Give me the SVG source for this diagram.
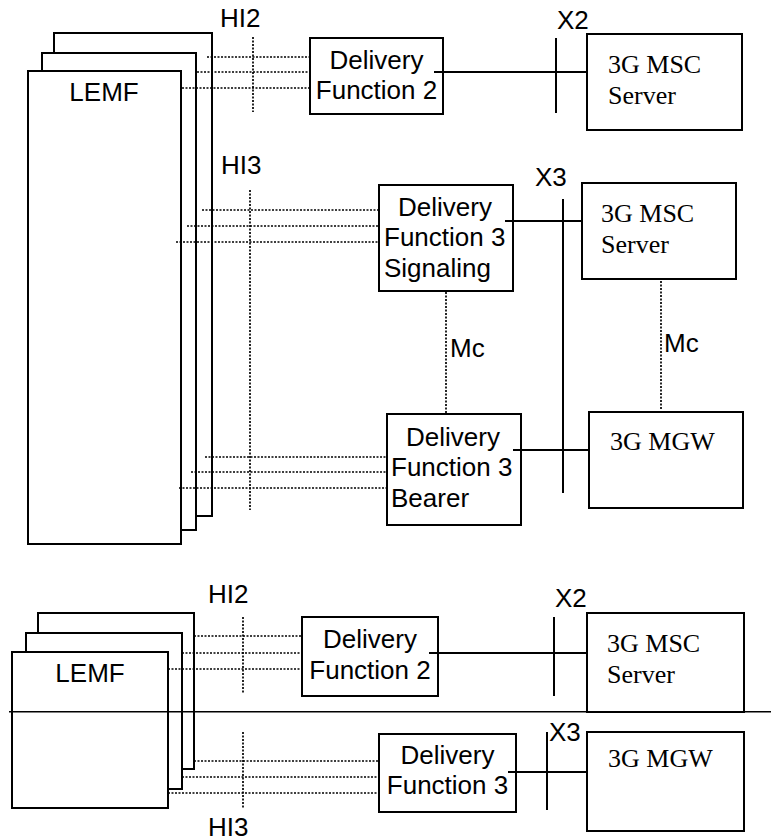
<svg xmlns="http://www.w3.org/2000/svg" width="771" height="840" viewBox="0 0 771 840">
<style>
.box{fill:#fff;stroke:#000;stroke-width:2}
.sans{font-family:"Liberation Sans",Arial,sans-serif;font-size:26px;fill:#000}
.serif{font-family:"Liberation Serif","Times New Roman",serif;font-size:26px;fill:#000}
.dot{stroke:#000;stroke-width:1.7;stroke-dasharray:2 1.5;fill:none}
.solid{stroke:#000;stroke-width:2;fill:none}
.thin{stroke:#000;stroke-width:1.4;fill:none}
</style>
<rect width="771" height="840" fill="#fff"/>

<!-- Top section -->
<g id="lemf-top">
  <rect class="box" x="54" y="33" width="158" height="483"/>
  <rect class="box" x="42" y="53" width="154" height="477"/>
  <rect class="box" x="28" y="71" width="153" height="473"/>
  <text class="sans" x="104" y="101" text-anchor="middle">LEMF</text>
</g>
<g id="df2-top">
  <rect class="box" x="310" y="38" width="133" height="76"/>
  <text class="sans" x="376.5" y="69" text-anchor="middle">Delivery</text>
  <text class="sans" x="376.5" y="99" text-anchor="middle">Function 2</text>
</g>
<g id="msc-top">
  <rect class="box" x="587" y="34" width="155" height="96"/>
  <text class="serif" x="608" y="73">3G MSC</text>
  <text class="serif" x="608" y="104">Server</text>
</g>
<g id="df3s">
  <rect class="box" x="379" y="185" width="134" height="106"/>
  <text class="sans" x="398" y="216">Delivery</text>
  <text class="sans" x="384" y="246">Function 3</text>
  <text class="sans" x="384" y="277">Signaling</text>
</g>
<g id="msc-mid">
  <rect class="box" x="582" y="183" width="154" height="96"/>
  <text class="serif" x="601" y="222">3G MSC</text>
  <text class="serif" x="601" y="253">Server</text>
</g>
<g id="df3b">
  <rect class="box" x="387" y="414" width="134" height="111"/>
  <text class="sans" x="406" y="446">Delivery</text>
  <text class="sans" x="391" y="476">Function 3</text>
  <text class="sans" x="391" y="507">Bearer</text>
</g>
<g id="mgw-top">
  <rect class="box" x="589" y="412" width="154" height="96"/>
  <text class="serif" x="610" y="450">3G MGW</text>
</g>

<!-- Bottom section -->
<g id="lemf-bottom">
  <rect class="box" x="38" y="613" width="156" height="156"/>
  <rect class="box" x="26" y="633" width="156" height="156"/>
  <rect class="box" x="12" y="652" width="156" height="156"/>
  <text class="sans" x="90" y="682" text-anchor="middle">LEMF</text>
</g>
<g id="df2-bottom">
  <rect class="box" x="302" y="617" width="136" height="79"/>
  <text class="sans" x="370" y="648" text-anchor="middle">Delivery</text>
  <text class="sans" x="370" y="679" text-anchor="middle">Function 2</text>
</g>
<g id="msc-bottom">
  <rect class="box" x="587" y="613" width="157" height="99"/>
  <text class="serif" x="607" y="652">3G MSC</text>
  <text class="serif" x="607" y="683">Server</text>
</g>
<g id="df3-bottom">
  <rect class="box" x="379" y="734" width="137" height="78"/>
  <text class="sans" x="447.5" y="764" text-anchor="middle">Delivery</text>
  <text class="sans" x="447.5" y="794" text-anchor="middle">Function 3</text>
</g>
<g id="mgw-bottom">
  <rect class="box" x="587" y="732" width="157" height="99"/>
  <text class="serif" x="608" y="767">3G MGW</text>
</g>

<g id="connectors">
  <!-- top HI2 -->
  <line class="dot" x1="253" y1="37" x2="253" y2="112"/>
  <line class="dot" x1="207" y1="57" x2="310" y2="57"/>
  <line class="dot" x1="197" y1="72" x2="310" y2="72"/>
  <line class="dot" x1="182" y1="88" x2="310" y2="88"/>
  <!-- top HI3 -->
  <line class="dot" x1="250" y1="190" x2="250" y2="510"/>
  <line class="dot" x1="202" y1="210" x2="379" y2="210"/>
  <line class="dot" x1="187" y1="226" x2="379" y2="226"/>
  <line class="dot" x1="176" y1="242" x2="379" y2="242"/>
  <line class="dot" x1="205" y1="457" x2="387" y2="457"/>
  <line class="dot" x1="191" y1="472" x2="387" y2="472"/>
  <line class="dot" x1="179" y1="488" x2="387" y2="488"/>
  <!-- X2 / X3 top -->
  <line class="solid" x1="434" y1="72" x2="587" y2="72"/>
  <line class="solid" x1="556" y1="38" x2="556" y2="113"/>
  <line class="solid" x1="505" y1="221" x2="582" y2="221"/>
  <line class="solid" x1="563" y1="199" x2="563" y2="493"/>
  <line class="solid" x1="513" y1="450" x2="589" y2="450"/>
  <!-- Mc -->
  <line class="dot" x1="446" y1="292" x2="446" y2="413"/>
  <line class="dot" x1="661" y1="281" x2="661" y2="410"/>
  <!-- divider -->
  <line class="thin" x1="9" y1="711.7" x2="771" y2="711.7"/>
  <!-- bottom HI2 -->
  <line class="dot" x1="243" y1="617" x2="243" y2="693"/>
  <line class="dot" x1="194" y1="636" x2="302" y2="636"/>
  <line class="dot" x1="182" y1="653" x2="302" y2="653"/>
  <line class="dot" x1="168" y1="669" x2="302" y2="669"/>
  <!-- bottom HI3 -->
  <line class="dot" x1="243" y1="732" x2="243" y2="808"/>
  <line class="dot" x1="194" y1="761" x2="379" y2="761"/>
  <line class="dot" x1="182" y1="777" x2="379" y2="777"/>
  <line class="dot" x1="168" y1="793" x2="379" y2="793"/>
  <!-- bottom X2 / X3 -->
  <line class="solid" x1="429" y1="653" x2="587" y2="653"/>
  <line class="solid" x1="554" y1="617" x2="554" y2="696"/>
  <line class="solid" x1="508" y1="772" x2="587" y2="772"/>
  <line class="solid" x1="547" y1="732" x2="547" y2="810"/>
</g>

<g id="labels">
  <text class="sans" x="220" y="27">HI2</text>
  <text class="sans" x="221" y="174">HI3</text>
  <text class="sans" x="557" y="29">X2</text>
  <text class="sans" x="535" y="186">X3</text>
  <text class="sans" x="450" y="357">Mc</text>
  <text class="sans" x="664" y="352">Mc</text>
  <text class="sans" x="208" y="603">HI2</text>
  <text class="sans" x="208" y="836">HI3</text>
  <text class="sans" x="555" y="607">X2</text>
  <text class="sans" x="549" y="741">X3</text>
</g>
</svg>
